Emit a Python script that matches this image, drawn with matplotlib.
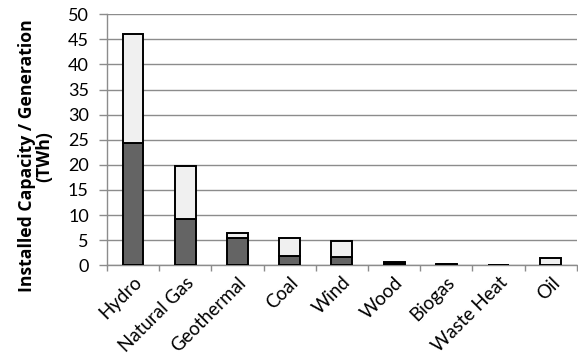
import matplotlib
matplotlib.use("Agg")
import matplotlib.pyplot as plt
import numpy as np

plt.rcParams['font.family'] = ['Lato', 'DejaVu Sans']

categories = ["Hydro", "Natural Gas", "Geothermal", "Coal", "Wind",
              "Wood", "Biogas", "Waste Heat", "Oil"]
generation = [24.4, 9.2, 5.5, 1.8, 1.6, 0.4, 0.2, 0.1, 0.05]
remainder = [21.6, 10.5, 1.0, 3.7, 3.2, 0.2, 0.1, 0.05, 1.4]
yticks = list(range(0, 51, 5))

fig = plt.figure(figsize=(5.78, 3.63), dpi=100)
ax = fig.add_axes([0.185, 0.269, 0.813, 0.692])

x = np.arange(len(categories))
ax.bar(x, generation, width=0.4, color="#646464", edgecolor="black",
       linewidth=1.4, zorder=3)
ax.bar(x, remainder, width=0.4, bottom=generation, color="#f0f0f0",
       edgecolor="black", linewidth=1.4, zorder=3)

ax.set_xlim(-0.5, len(categories) - 0.5)
ax.set_ylim(0, 50)
ax.set_yticks(yticks)
ax.yaxis.grid(True, color="#8c8c8c", linewidth=1.0, zorder=0)
ax.set_axisbelow(True)

for s in ("top", "right"):
    ax.spines[s].set_visible(False)
for s in ("left", "bottom"):
    ax.spines[s].set_color("#8c8c8c")
    ax.spines[s].set_linewidth(1.0)

ax.tick_params(axis="y", length=5.5, color="#8c8c8c", width=1.0,
               labelsize=13, pad=7.5)
ax.set_xticks(np.arange(len(categories) + 1) - 0.5)
ax.set_xticklabels([])
ax.tick_params(axis="x", which="major", length=4.5, color="#8c8c8c", width=1.0)
ax.set_xticks(x, minor=True)
ax.set_xticklabels(categories, minor=True, rotation=45, ha="right",
                   rotation_mode="anchor", fontsize=13.5)
ax.tick_params(axis="x", which="minor", length=0, pad=6)

ax.set_ylabel("Installed Capacity / Generation\n(TWh)", fontsize=12.7,
              family=["Open Sans", "DejaVu Sans"], fontweight="bold",
              linespacing=0.95)
ax.yaxis.set_label_coords(-0.115, 0.435)

fig.savefig("out.png", dpi=100)
